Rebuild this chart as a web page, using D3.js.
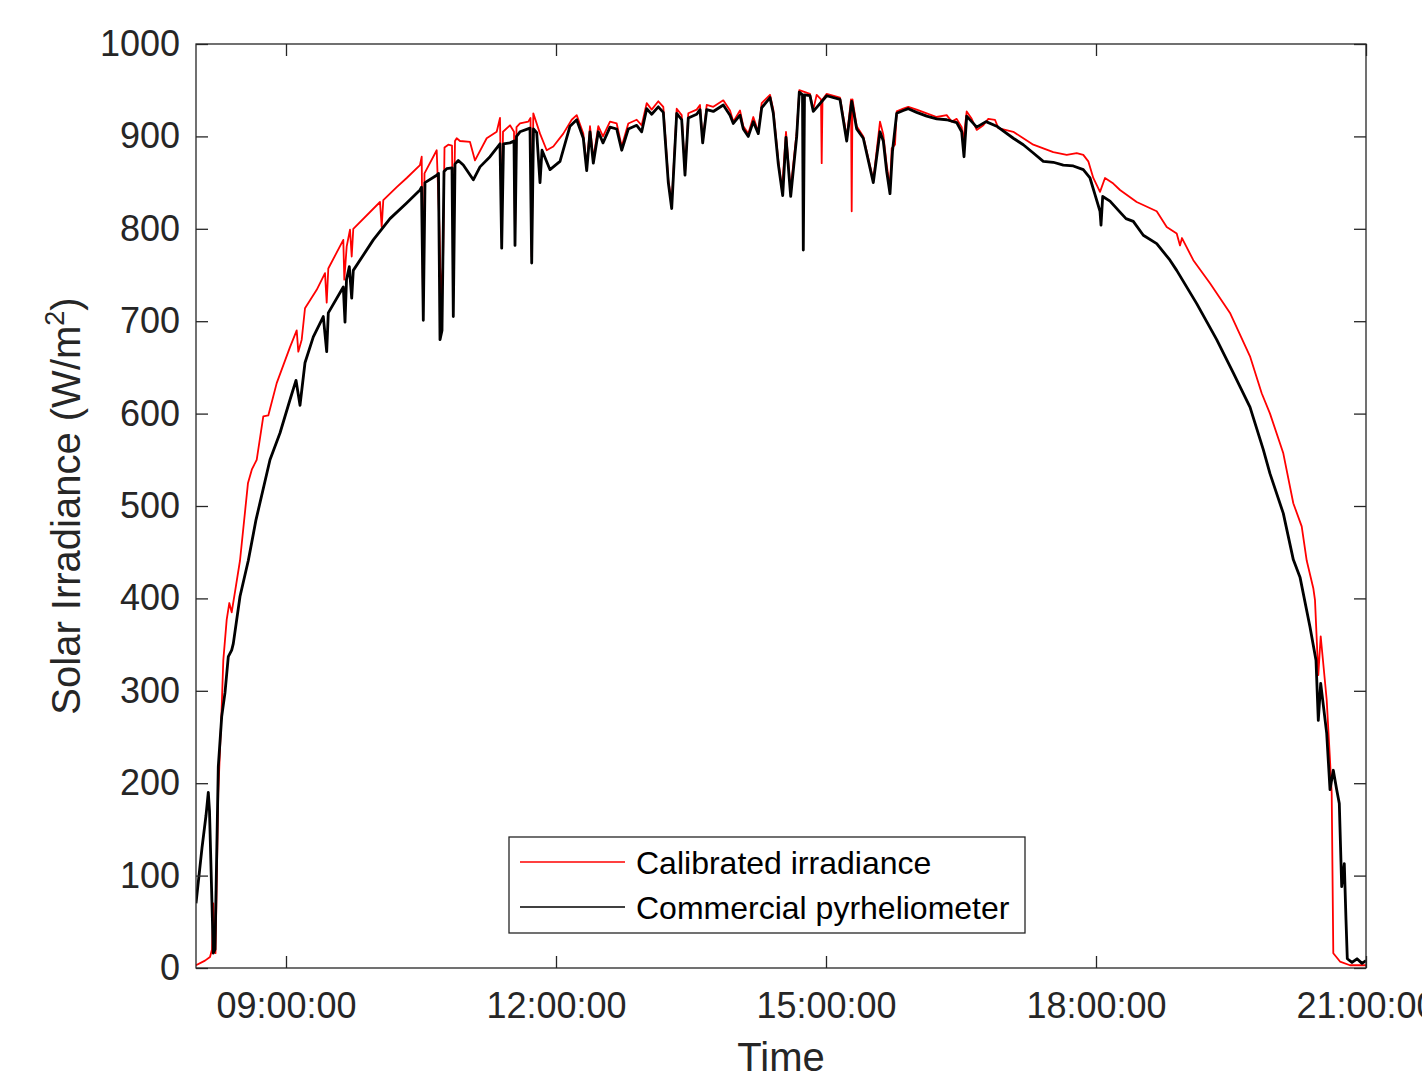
<!DOCTYPE html>
<html>
<head>
<meta charset="utf-8">
<script src="https://cdn.jsdelivr.net/npm/d3@7"></script>
<style>
  body { margin: 0; background: #fff; }
  svg { display: block; font-family: "Liberation Sans", Arial, Helvetica, sans-serif; }
</style>
</head>
<body>
<div id="chart"></div>
<script>
// calibrated irradiance (red), [time, W/m2]
const calibrated = [
  ["08:00:00",3],["08:06:00",8],["08:09:20",12],["08:10:40",20],["08:11:30",70],["08:12:20",30],["08:13:00",16],
  ["08:14:50",189],["08:17:08",282],["08:18:12",333],["08:20:28",377],["08:22:12",395],["08:23:48",385],["08:26:00",407],
  ["08:29:20",441],["08:34:40",525],["08:37:20",540],["08:40:28",550],["08:44:52",597],["08:48:12",598],["08:53:48",633],
  ["09:02:40",672],["09:07:08",690],["09:08:12",667],["09:10:28",680],["09:12:40",714],["09:20:28",734],["09:26:00",752],
  ["09:27:08",720],["09:28:12",757],["09:38:12",788],["09:38:52",745],["09:40:28",781],["09:42:40",799],["09:43:48",770],
  ["09:44:52",800],["10:02:40",829],["10:03:48",802],["10:04:52",831],["10:13:48",845],["10:20:28",855],["10:29:20",869],
  ["10:30:28",878],["10:31:20",720],["10:32:20",860],["10:40:28",885],["10:42:20",800],["10:43:20",727],["10:44:40",760],
  ["10:45:40",888],["10:48:12",891],["10:50:40",890],["10:51:32",773],["10:52:40",895],["10:53:48",898],["10:56:00",895],
  ["11:02:40",894],["11:06:00",874],["11:13:48",898],["11:20:28",905],["11:22:40",920],["11:23:48",790],["11:24:40",905],
  ["11:29:20",912],["11:32:00",905],["11:32:40",790],["11:33:40",910],["11:36:00",914],["11:41:32",916],["11:43:00",920],
  ["11:43:48",770],["11:44:52",925],["11:49:20",903],["11:53:48",885],["11:58:12",889],["12:04:52",903],["12:10:28",918],
  ["12:13:48",923],["12:18:12",903],["12:20:28",867],["12:22:40",911],["12:24:52",876],["12:28:12",911],["12:31:20",900],
  ["12:36:00",916],["12:40:28",914],["12:43:48",889],["12:48:12",914],["12:53:48",918],["12:57:08",912],["13:00:28",936],
  ["13:03:48",929],["13:08:12",938],["13:11:32",932],["13:14:52",853],["13:17:08",828],["13:20:28",930],["13:23:48",923],
  ["13:26:00",860],["13:28:12",925],["13:33:48",929],["13:36:00",934],["13:37:48",894],["13:40:28",934],["13:44:52",932],
  ["13:51:32",939],["13:56:00",928],["13:58:12",916],["14:02:40",928],["14:04:52",911],["14:08:12",903],["14:11:32",921],
  ["14:14:52",905],["14:17:08",936],["14:22:40",945],["14:24:52",929],["14:28:12",874],["14:30:40",842],["14:33:20",905],
  ["14:36:20",842],["14:40:28",905],["14:42:12",950],["14:49:20",946],["14:51:32",929],["14:53:48",945],["14:56:40",940],
  ["14:57:08",871],["14:57:40",940],["15:00:28",946],["15:09:20",942],["15:12:40",911],["15:13:48",898],["15:16:40",940],
  ["15:17:08",819],["15:17:40",940],["15:20:28",911],["15:24:52",900],["15:31:32",853],["15:36:00",916],["15:38:12",902],
  ["15:40:28",869],["15:42:40",845],["15:43:48",887],["15:46:00",891],["15:47:08",927],["15:51:32",930],["15:54:52",932],
  ["16:00:28",929],["16:07:08",925],["16:13:48",921],["16:20:28",923],["16:23:48",916],["16:27:08",919],["16:30:28",910],
  ["16:31:32",895],["16:33:48",927],["16:37:08",919],["16:40:28",907],["16:44:52",912],["16:48:12",919],["16:52:40",918],
  ["16:54:52",909],["17:04:52",905],["17:11:32",898],["17:18:12",891],["17:24:52",887],["17:31:32",883],["17:40:28",880],
  ["17:47:08",882],["17:51:32",880],["17:54:52",873],["17:58:12",855],["18:02:40",840],["18:06:00",855],["18:11:32",849],
  ["18:16:00",842],["18:27:08",829],["18:40:28",819],["18:47:08",802],["18:53:48",795],["18:56:00",782],["18:57:20",790],
  ["19:04:52",766],["19:16:00",741],["19:29:20",709],["19:42:40",662],["19:50:28",622],["19:56:00",600],["20:04:52",557],
  ["20:11:32",503],["20:17:08",478],["20:20:28",441],["20:24:52",411],["20:26:00",398],["20:28:12",317],["20:29:48",359],
  ["20:33:48",290],["20:36:00",225],["20:37:08",189],["20:38:12",16],["20:42:40",7],["20:49:20",3],["21:00:00",3]
];

// commercial pyrheliometer (black), [time, W/m2]
const pyrheliometer = [
  ["08:00:00",70],["08:04:00",130],["08:06:40",165],["08:08:12",190],["08:09:00",170],["08:11:32",16],["08:12:40",20],
  ["08:14:52",218],["08:17:08",272],["08:19:20",298],["08:21:32",337],["08:23:48",344],["08:24:52",351],["08:29:20",402],
  ["08:34:52",441],["08:40:00",485],["08:49:20",550],["08:56:00",579],["09:02:40",615],["09:06:40",636],["09:09:20",609],
  ["09:12:40",655],["09:18:12",683],["09:24:52",705],["09:27:08",667],["09:28:12",709],["09:38:12",737],["09:39:20",699],
  ["09:40:20",745],["09:42:12",759],["09:43:48",725],["09:44:52",755],["09:58:12",788],["10:09:20",811],["10:20:28",828],
  ["10:29:20",842],["10:30:20",845],["10:31:32",701],["10:32:40",850],["10:40:28",858],["10:41:40",860],["10:42:40",680],
  ["10:44:00",690],["10:45:20",862],["10:47:08",865],["10:50:40",866],["10:51:32",705],["10:52:40",870],["10:54:52",874],
  ["10:58:12",869],["11:04:52",853],["11:09:20",867],["11:16:00",878],["11:22:40",892],["11:23:48",779],["11:25:00",892],
  ["11:29:20",893],["11:32:00",895],["11:32:40",782],["11:33:40",900],["11:36:00",905],["11:42:40",909],["11:43:48",763],
  ["11:45:00",908],["11:47:08",904],["11:49:20",850],["11:50:40",885],["11:56:00",864],["12:02:40",873],["12:09:20",911],
  ["12:13:48",918],["12:18:12",898],["12:20:28",863],["12:22:40",905],["12:24:52",871],["12:28:12",905],["12:31:20",893],
  ["12:36:00",910],["12:40:28",908],["12:43:48",885],["12:48:12",908],["12:53:48",912],["12:57:08",905],["13:00:28",930],
  ["13:03:48",924],["13:08:12",932],["13:11:32",926],["13:14:52",850],["13:17:08",822],["13:20:28",925],["13:23:48",918],
  ["13:26:00",858],["13:28:12",920],["13:33:48",924],["13:36:00",929],["13:37:48",893],["13:40:28",929],["13:44:52",927],
  ["13:51:32",934],["13:56:00",923],["13:58:12",914],["14:02:40",923],["14:04:52",908],["14:08:12",900],["14:11:32",916],
  ["14:14:52",903],["14:17:08",931],["14:22:40",942],["14:24:52",925],["14:28:12",870],["14:31:08",836],["14:33:20",899],
  ["14:36:28",835],["14:40:28",900],["14:42:12",948],["14:44:20",945],["14:44:52",777],["14:45:40",945],["14:49:20",944],
  ["14:51:32",927],["15:00:28",944],["15:09:20",940],["15:13:48",895],["15:17:08",938],["15:20:28",908],["15:24:52",898],
  ["15:31:32",850],["15:36:00",905],["15:38:12",895],["15:40:28",862],["15:42:40",838],["15:44:20",884],["15:47:08",925],
  ["15:51:32",928],["15:54:52",930],["16:00:28",926],["16:07:08",922],["16:13:48",919],["16:20:28",918],["16:27:08",915],
  ["16:30:28",905],["16:32:00",878],["16:33:48",922],["16:40:28",910],["16:46:40",916],["16:53:48",911],["17:04:52",898],
  ["17:11:32",891],["17:18:12",882],["17:24:52",873],["17:31:32",872],["17:38:12",869],["17:44:52",868],["17:51:32",864],
  ["17:56:00",855],["17:59:20",837],["18:02:40",819],["18:03:20",804],["18:04:28",835],["18:09:20",830],["18:16:00",818],
  ["18:20:00",811],["18:24:52",808],["18:31:32",793],["18:40:28",784],["18:49:20",766],["18:53:48",755],["19:07:08",719],
  ["19:20:28",680],["19:31:32",644],["19:42:40",607],["19:51:32",561],["19:56:00",535],["20:04:52",492],["20:11:32",442],
  ["20:16:00",423],["20:22:40",369],["20:26:40",333],["20:28:12",268],["20:29:48",308],["20:33:48",254],["20:36:00",193],
  ["20:38:12",214],["20:40:28",193],["20:42:12",178],["20:43:48",88],["20:45:32",113],["20:46:40",52],["20:47:32",10],
  ["20:50:40",6],["20:54:00",10],["20:57:20",5],["21:00:00",8]
];

const seriesNames = ["Calibrated irradiance", "Commercial pyrheliometer"];
const seriesColors = ["#ff0000", "#000000"];
const xTickTimes = ["09:00:00", "12:00:00", "15:00:00", "18:00:00", "21:00:00"];
const yTicks = [0, 100, 200, 300, 400, 500, 600, 700, 800, 900, 1000];

const width = 1422, height = 1071;
const margin = {left: 196, right: 56, top: 44, bottom: 103};
const axisColor = "#262626";

const parseTime = d3.timeParse("%H:%M:%S");
const fmtTime = d3.timeFormat("%H:%M:%S");

const svg = d3.select("#chart")
  .append("svg")
  .attr("width", width)
  .attr("height", height);

const x = d3.scaleTime()
  .domain([parseTime("08:00:00"), parseTime("21:00:00")])
  .range([margin.left, width - margin.right]);

const y = d3.scaleLinear()
  .domain([0, 1000])
  .range([height - margin.bottom, margin.top]);

svg.append("clipPath").attr("id", "plotclip")
  .append("rect")
  .attr("x", margin.left).attr("y", margin.top)
  .attr("width", width - margin.left - margin.right)
  .attr("height", height - margin.top - margin.bottom);

const line = d3.line()
  .x(d => x(parseTime(d[0])))
  .y(d => y(d[1]));

const plot = svg.append("g").attr("clip-path", "url(#plotclip)");

plot.append("path")
  .datum(calibrated)
  .attr("fill", "none")
  .attr("stroke", seriesColors[0])
  .attr("stroke-width", 1.8)
  .attr("stroke-linejoin", "round")
  .attr("d", line);

plot.append("path")
  .datum(pyrheliometer)
  .attr("fill", "none")
  .attr("stroke", seriesColors[1])
  .attr("stroke-width", 2.8)
  .attr("stroke-linejoin", "round")
  .attr("d", line);

// axes, ticks pointing inward
const xTicks = xTickTimes.map(parseTime);

svg.append("g")
  .attr("transform", `translate(0,${height - margin.bottom})`)
  .call(d3.axisBottom(x).tickValues(xTicks).tickFormat(fmtTime)
    .tickSizeInner(-12).tickSizeOuter(0).tickPadding(24));

svg.append("g")
  .attr("transform", `translate(0,${margin.top})`)
  .call(d3.axisTop(x).tickValues(xTicks).tickFormat("")
    .tickSizeInner(-12).tickSizeOuter(0));

svg.append("g")
  .attr("transform", `translate(${margin.left},0)`)
  .call(d3.axisLeft(y).tickValues(yTicks).tickFormat(d3.format("d"))
    .tickSizeInner(-12).tickSizeOuter(0).tickPadding(16));

svg.append("g")
  .attr("transform", `translate(${width - margin.right},0)`)
  .call(d3.axisRight(y).tickValues(yTicks).tickFormat("")
    .tickSizeInner(-12).tickSizeOuter(0));

svg.selectAll(".domain").remove();
svg.selectAll(".tick line").attr("stroke", axisColor).attr("stroke-width", 1.3);
svg.selectAll(".tick text")
  .attr("fill", axisColor)
  .style("font-size", "36px")
  .style("font-family", "'Liberation Sans', Arial, sans-serif");

svg.append("rect")
  .attr("x", margin.left).attr("y", margin.top)
  .attr("width", width - margin.left - margin.right)
  .attr("height", height - margin.top - margin.bottom)
  .attr("fill", "none")
  .attr("stroke", axisColor)
  .attr("stroke-width", 1.3);

// axis titles
svg.append("text")
  .attr("x", (margin.left + width - margin.right) / 2)
  .attr("y", 1071)
  .attr("text-anchor", "middle")
  .attr("fill", axisColor)
  .style("font-size", "40px")
  .text("Time");

const yl = svg.append("text")
  .attr("transform", `translate(80,${(margin.top + height - margin.bottom) / 2}) rotate(-90)`)
  .attr("text-anchor", "middle")
  .attr("fill", axisColor)
  .style("font-size", "40px");
yl.append("tspan").text("Solar Irradiance (W/m");
yl.append("tspan").attr("dy", -16).style("font-size", "27px").text("2");
yl.append("tspan").attr("dy", 16).text(")");

// legend
const legend = svg.append("g").attr("transform", "translate(509,837)");
legend.append("rect")
  .attr("width", 516).attr("height", 96)
  .attr("fill", "#fff")
  .attr("stroke", axisColor)
  .attr("stroke-width", 1.3);

seriesNames.forEach((name, i) => {
  const ly = 25 + i * 45;
  legend.append("line")
    .attr("x1", 11).attr("x2", 116)
    .attr("y1", ly).attr("y2", ly)
    .attr("stroke", seriesColors[i])
    .attr("stroke-width", 1.3);
  legend.append("text")
    .attr("x", 127).attr("y", ly + 12)
    .attr("fill", "#000")
    .style("font-size", "32px")
    .text(name);
});
</script>
</body>
</html>
